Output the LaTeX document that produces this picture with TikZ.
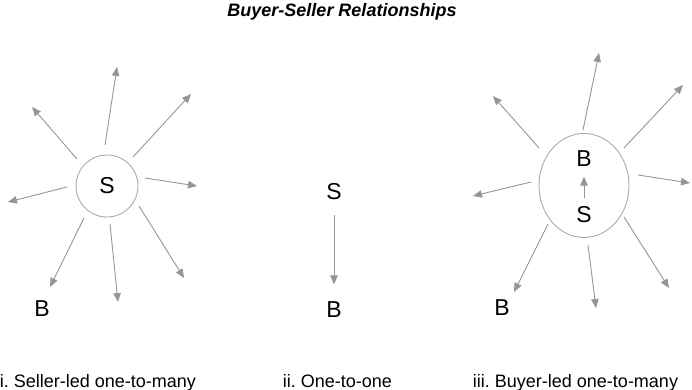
\documentclass[tikz,border=0pt]{standalone}
\usepackage{fontspec}
\setmainfont{Liberation Sans}
\usetikzlibrary{arrows.meta,shapes.geometric}
\definecolor{raygray}{RGB}{150,150,150}
\definecolor{rimgray}{RGB}{170,170,170}
\frenchspacing
\begin{document}
\begin{tikzpicture}[x=1pt,y=-1pt,
  ray/.style={draw=raygray,line width=0.9pt,-{Triangle[length=9pt,width=7.5pt]}},
  hub/.style={draw=rimgray,line width=0.9pt,circle,inner sep=0pt},
  letter/.style={inner sep=0pt,font=\fontsize{23}{25}\selectfont},
  caption/.style={anchor=base,inner sep=0pt,font=\fontsize{18}{20}\selectfont}]
\useasboundingbox (0,0) rectangle (692,390);

% title
\node[inner sep=0pt,font=\fontsize{18}{20}\selectfont\bfseries\itshape] (title) at (342,12) {Buyer-Seller Relationships};

% i. seller-led one-to-many
\node[hub,minimum size=62pt,font=\fontsize{23}{25}\selectfont] (seller) at (107,186) {S};
\node[letter] (buyerL) at (42,309) {B};
\foreach \i/\sx/\sy/\ex/\ey in {
  1/105/145/117/67, 2/133/157/191/94, 3/145/178/197/186, 4/139/206/184/278,
  5/110/224/118/302, 6/84/218/50/287, 7/67/187/8/202, 8/77/159/32/107}{
  \coordinate (ls\i) at (\sx,\sy);
  \coordinate (le\i) at (\ex,\ey);
  \draw[ray] (ls\i) -- (le\i);
}

% ii. one-to-one
\node[letter] (sellerM) at (334,192) {S};
\node[letter] (buyerM) at (334,309.5) {B};
\draw[ray,shorten <=15pt,shorten >=17pt] (sellerM) -- (buyerM);

% iii. buyer-led one-to-many
\node[draw=rimgray,line width=0.9pt,ellipse,inner sep=0pt,minimum width=90pt,minimum height=104pt] (group) at (584,185.5) {};
\node[letter] (innerB) at (584,158.5) {B};
\node[letter] (innerS) at (584,215) {S};
\draw[ray,shorten <=9pt,shorten >=10pt] (innerS) -- (innerB);
\node[letter] (buyerR) at (502,308) {B};
\foreach \i/\sx/\sy/\ex/\ey in {
  1/583/130/599/53, 2/624/148/683/85, 3/638/175/690/183, 4/624/217/669/288,
  5/588/245/596/308, 6/548/224/514/292, 7/531/182/473/196, 8/539/148/493/96}{
  \coordinate (rs\i) at (\sx,\sy);
  \coordinate (re\i) at (\ex,\ey);
  \draw[ray] (rs\i) -- (re\i);
}

% captions
\node[caption] (capA) at (98,387) {i. Seller-led one-to-many};
\node[caption] (capB) at (337.5,387) {ii. One-to-one};
\node[caption] (capC) at (575.5,387) {iii. Buyer-led one-to-many};
\end{tikzpicture}
\end{document}
